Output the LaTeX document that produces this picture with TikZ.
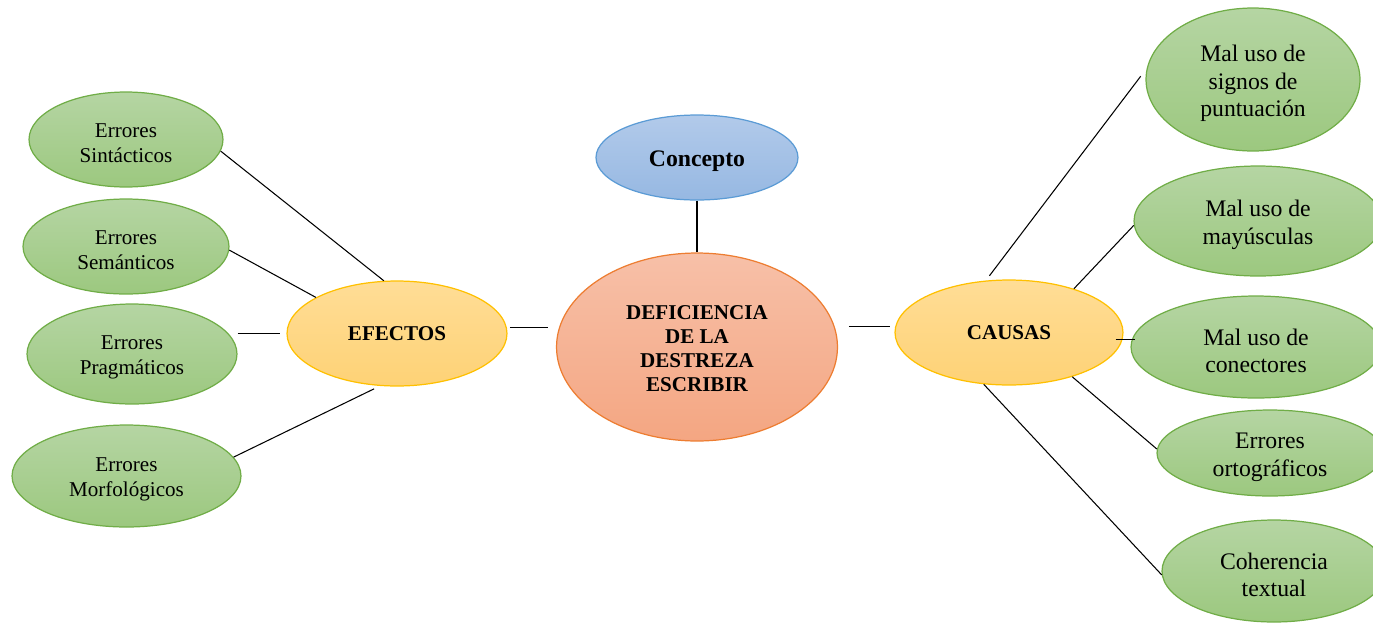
\documentclass[tikz,border=0pt]{standalone}
\usepackage{fontspec}
\setmainfont{Liberation Serif}
\usetikzlibrary{shapes.geometric,calc}
\definecolor{gtop}{RGB}{181,213,163}
\definecolor{gbot}{RGB}{156,200,127}
\definecolor{gline}{RGB}{112,173,71}
\definecolor{otop}{RGB}{255,221,150}
\definecolor{obot}{RGB}{254,210,118}
\definecolor{oline}{RGB}{255,192,0}
\definecolor{rtop}{RGB}{247,192,168}
\definecolor{rbot}{RGB}{244,166,130}
\definecolor{rline}{RGB}{237,125,49}
\definecolor{btop}{RGB}{178,202,234}
\definecolor{bbot}{RGB}{150,184,226}
\definecolor{bline}{RGB}{91,155,213}
\newcommand\myLst{\rule{0pt}{12pt}}
\newcommand\myRst{\rule{0pt}{13.8pt}}
\newcommand\myDst{\rule{0pt}{9.8pt}}
\tikzset{
  ell/.style={ellipse, draw, line width=0.7pt, inner sep=0pt, align=center},
  leftleaf/.style={ell, draw=gline, top color=gtop, bottom color=gbot,
    font=\fontsize{12}{14.2}\selectfont},
  rightleaf/.style={ell, draw=gline, top color=gtop, bottom color=gbot,
    font=\fontsize{13.5}{15.6}\selectfont},
  hub/.style={ell, draw=oline, top color=otop, bottom color=obot,
    font=\fontsize{12}{13.6}\selectfont\bfseries},
  core/.style={ell, draw=rline, top color=rtop, bottom color=rbot,
    font=\fontsize{12}{13.6}\selectfont\bfseries},
  topic/.style={ell, draw=bline, top color=btop, bottom color=bbot,
    font=\fontsize{13.5}{15.6}\selectfont\bfseries},
  link/.style={draw=black, line width=0.6pt}
}
\begin{document}
\begin{tikzpicture}[x=0.02cm, y=-0.02cm]
\useasboundingbox (0,0) rectangle (1373,623);
\clip (0,0) rectangle (1373,623);
% central
\node[topic, minimum width=4.04cm, minimum height=1.7cm] (con) at (697,157.5) {\rule{0pt}{12.6pt}Concepto};
\node[core, minimum width=5.62cm, minimum height=3.76cm] (def) at (697,347) {\myDst DEFICIENCIA\\DE LA\\DESTREZA\\ESCRIBIR};
\node[hub, minimum width=4.4cm, minimum height=2.1cm] (efe) at (397,333.5) {EFECTOS};
\node[hub, minimum width=4.56cm, minimum height=2.1cm] (cau) at (1009,332.5) {CAUSAS};
% left leaves
\node[leftleaf, minimum width=3.88cm, minimum height=1.9cm] (sin) at (126,139.5) {\myLst Errores\\Sintácticos};
\node[leftleaf, minimum width=4.12cm, minimum height=1.9cm] (sem) at (126,246.5) {\myLst Errores\\Semánticos};
\node[leftleaf, minimum width=4.2cm, minimum height=2.0cm] (pra) at (132,354) {\myLst Errores\\Pragmáticos};
\node[leftleaf, minimum width=4.58cm, minimum height=2.04cm] (mor) at (126.5,476) {\myLst Errores\\Morfológicos};
% right leaves
\node[rightleaf, minimum width=4.28cm, minimum height=2.86cm] (pun) at (1253,79.5) {\myRst Mal uso de\\signos de\\puntuación};
\node[rightleaf, minimum width=4.96cm, minimum height=2.2cm] (may) at (1258,221) {\myRst Mal uso de\\mayúsculas};
\node[rightleaf, minimum width=5.0cm, minimum height=2.04cm] (cnx) at (1256,347) {\myRst Mal uso de\\conectores};
\node[rightleaf, minimum width=4.52cm, minimum height=1.72cm] (ort) at (1270,453) {\myRst Errores\\ortográficos};
\node[rightleaf, minimum width=4.48cm, minimum height=2.04cm] (coh) at (1274,571) {\myRst Coherencia\\textual};
% connectors
\draw[link] (con.south) -- (def.north);
\draw[link, shorten <=1.7pt, shorten >=4.5pt] (efe.3) -- (efe.3 -| def.west);
\draw[link, shorten <=6.2pt, shorten >=3.2pt] (cau.177 -| def.east) -- (cau.177);
\draw[link] (sin.-7) -- (efe.104);
\draw[link] (sem.-2) -- (efe.156);
\draw[link, shorten >=3.4pt] (pra.east |- efe.west) -- (efe.west);
\draw[link, shorten >=3.7pt] (mor.10) -- (efe.252);
\draw[link, shorten <=3.4pt, shorten >=5.7pt] (cau.114) -- (pun.174);
\draw[link] (cau.34) -- (may.182);
\coordinate (mid) at ($(cau.east)!0.5!(cnx.west)$);
\draw[link, shorten <=-4.5pt, shorten >=-2.8pt] (cau.east |- mid) -- (cnx.west |- mid);
\draw[link] (cau.-35) -- (ort.178);
\draw[link] (cau.244) -- (coh.182);
\end{tikzpicture}
\end{document}
